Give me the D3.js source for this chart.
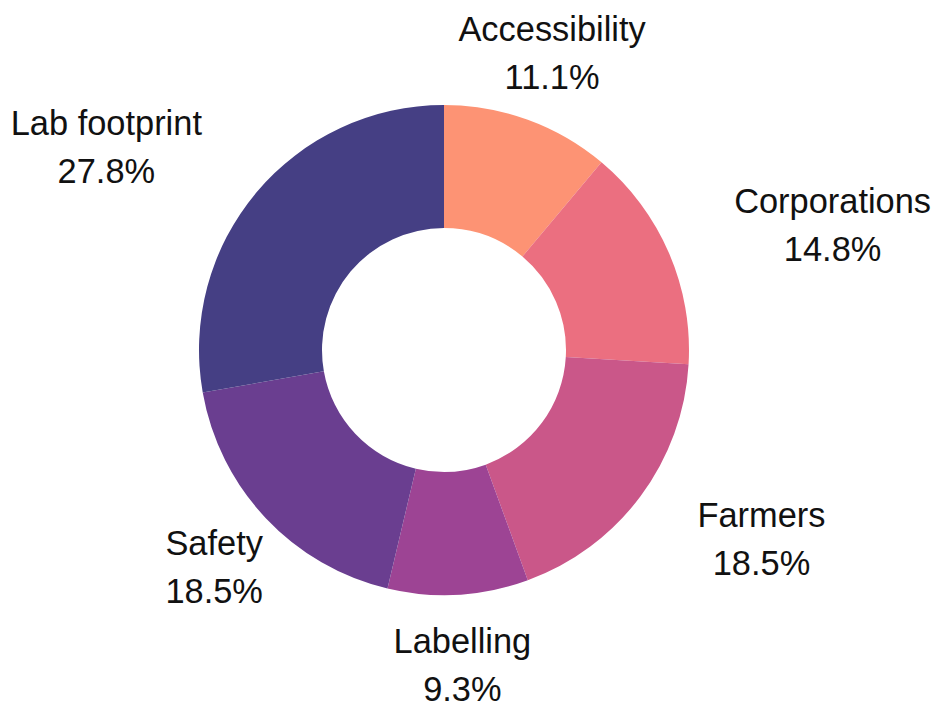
<!DOCTYPE html>
<html>
<head>
<meta charset="utf-8">
<script src="https://cdn.jsdelivr.net/npm/d3@7"></script>
<style>
  html, body { margin: 0; padding: 0; background: #ffffff; }
  svg { display: block; }
  text { font-family: "Liberation Sans", Arial, sans-serif; fill: #111111; }
</style>
</head>
<body>
<svg id="chart" width="936" height="706"></svg>
<script>
const categories = ["Accessibility", "Corporations", "Farmers", "Labelling", "Safety", "Lab footprint"];
const values = [6, 8, 10, 5, 10, 15];
const colors = ["#fd9374", "#eb6f80", "#ca5789", "#9d4494", "#6a3e90", "#453f84"];

const width = 936, height = 706;
const cx = 444, cy = 350;
const outerR = 245, innerR = 122, labelR = 316;
const fontSize = 34.4;

const svg = d3.select("#chart");
const total = d3.sum(values);
const data = categories.map((c, i) => ({ name: c, value: values[i], color: colors[i] }));

const pie = d3.pie().value(d => d.value).sort(null).startAngle(0).endAngle(2 * Math.PI);
const arc = d3.arc().innerRadius(innerR).outerRadius(outerR);
const arcs = pie(data);

const g = svg.append("g").attr("transform", `translate(${cx},${cy})`);

g.selectAll("path.slice")
  .data(arcs)
  .join("path")
  .attr("class", "slice")
  .attr("d", arc)
  .attr("fill", d => d.data.color);

const fmt = v => (v / total * 100).toFixed(1) + "%";

arcs.forEach(d => {
  const a = (d.startAngle + d.endAngle) / 2;
  const s = Math.sin(a), c = Math.cos(a);
  const px = labelR * s, py = -labelR * c;
  const lg = g.append("g");
  const t1 = lg.append("text").attr("font-size", fontSize).attr("text-anchor", "middle").text(d.data.name);
  const t2 = lg.append("text").attr("font-size", fontSize).attr("text-anchor", "middle").text(fmt(d.data.value));
  const w = Math.max(t1.node().getComputedTextLength(), t2.node().getComputedTextLength());
  let x = px;
  if (Math.abs(s) > 0.75) x = px + (s > 0 ? w / 2 : -w / 2);
  t1.attr("x", x).attr("y", py - 12);
  t2.attr("x", x).attr("y", py + 36);
});
</script>
</body>
</html>
